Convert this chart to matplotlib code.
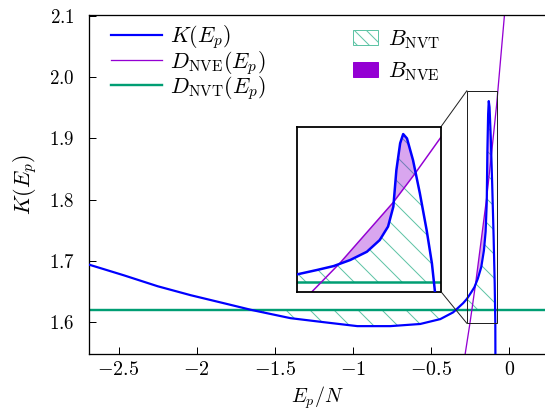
import matplotlib
matplotlib.use("Agg")
import matplotlib.pyplot as plt
from matplotlib.patches import Patch, ConnectionPatch, Rectangle
from matplotlib.lines import Line2D
import numpy as np

plt.rcParams['mathtext.fontset'] = 'cm'
plt.rcParams['font.family'] = ['DejaVu Serif']
plt.rcParams['hatch.linewidth'] = 1.0

# K(E_p)
k_x = np.array([-2.69, -2.60, -2.466, -2.249, -2.038, -1.827, -1.65, -1.399, -1.188,
                -0.971, -0.760, -0.569, -0.44, -0.358, -0.294, -0.270, -0.244, -0.222,
                -0.200, -0.178, -0.161, -0.150, -0.143, -0.139, -0.134, -0.130, -0.125,
                -0.117, -0.108, -0.099, -0.092, -0.088, -0.087])
k_y = np.array([1.694, 1.687, 1.6765, 1.6586, 1.644, 1.631, 1.620, 1.6065, 1.600,
                1.5935, 1.5935, 1.597, 1.605, 1.616, 1.631, 1.638, 1.648, 1.657,
                1.671, 1.690, 1.717, 1.748, 1.794, 1.878, 1.940, 1.961, 1.951,
                1.901, 1.825, 1.740, 1.663, 1.598, 1.50])

# D_NVE(E_p)
nve_x = [-0.30, -0.281, -0.2506, -0.2136, -0.143, -0.114, -0.080, -0.030, -0.015]
nve_y = [1.517, 1.548, 1.598, 1.664, 1.804, 1.871, 1.954, 2.100, 2.15]

# D_NVT(E_p)
nvt_level = 1.62

# B_NVE region (between the crossings of K and D_NVE)
fill_x = [-0.2136, -0.200, -0.178, -0.161, -0.150, -0.143, -0.139, -0.134, -0.130,
          -0.125, -0.117, -0.113]
fill_k = [1.664, 1.671, 1.690, 1.717, 1.748, 1.794, 1.878, 1.940, 1.961,
          1.951, 1.901, 1.873]
fill_d = [1.664, 1.691, 1.734, 1.768, 1.790, 1.804, 1.813, 1.824, 1.834,
          1.845, 1.864, 1.873]

xticks = [-2.5, -2, -1.5, -1, -0.5, 0]
xticklabels = ['$-2.5$', '$-2$', '$-1.5$', '$-1$', '$-0.5$', '$0$']
yticks = [1.6, 1.7, 1.8, 1.9, 2.0, 2.1]
yticklabels = ['$1.6$', '$1.7$', '$1.8$', '$1.9$', '$2.0$', '$2.1$']

BLUE = '#0000ff'
PURPLE = '#9400d3'
GREEN = '#009e73'
HATCH = '#5fc4a6'

fig = plt.figure(figsize=(545 / 72, 415 / 72), dpi=72)
ax = fig.add_axes([0.163, 0.147, 0.837, 0.816])


def draw(a, lw_k, lw_g, lw_p):
    mask = (k_x >= -1.66) & (k_x <= -0.088)
    a.fill_between(k_x, k_y, nvt_level, where=mask, interpolate=True,
                   facecolor='none', edgecolor=HATCH, hatch='\\', linewidth=0, zorder=1)
    a.fill_between(fill_x, fill_k, fill_d, facecolor=PURPLE, alpha=0.35,
                   linewidth=0, zorder=1.5)
    a.axhline(nvt_level, color=GREEN, lw=lw_g, zorder=2)
    a.plot(nve_x, nve_y, color=PURPLE, lw=lw_p, zorder=2.5)
    a.plot(k_x, k_y, color=BLUE, lw=lw_k, zorder=3)


draw(ax, 2.2, 2.4, 1.3)
ax.set_xlim(-2.69, 0.23)
ax.set_ylim(1.548, 2.101)
ax.set_xticks(xticks)
ax.set_xticklabels(xticklabels, fontsize=20)
ax.set_yticks(yticks)
ax.set_yticklabels(yticklabels, fontsize=19)
ax.tick_params(direction='in', length=7, width=1, top=False, right=False)
ax.tick_params(axis='x', pad=6)
ax.tick_params(axis='y', pad=14)
ax.spines['right'].set_visible(False)
for s in ['left', 'bottom', 'top']:
    ax.spines[s].set_linewidth(1.3)
ax.set_xlabel('$E_p/N$', fontsize=20, labelpad=5)
ax.set_ylabel('$K(E_p)$', fontsize=22, labelpad=10)

h1 = [Line2D([], [], color=BLUE, lw=2.2),
      Line2D([], [], color=PURPLE, lw=1.3),
      Line2D([], [], color=GREEN, lw=2.4)]
l1 = ['$K(E_p)$', '$D_{\\mathrm{NVE}}(E_p)$', '$D_{\\mathrm{NVT}}(E_p)$']
leg1 = ax.legend(h1, l1, loc='upper left', bbox_to_anchor=(0.005, 1.035), frameon=False,
                 fontsize=22, handlelength=2.3, labelspacing=-0.12, handletextpad=0.4)
ax.add_artist(leg1)
h2 = [Patch(facecolor='white', edgecolor=HATCH, hatch='\\\\', lw=1),
      Patch(facecolor=PURPLE, edgecolor=PURPLE)]
l2 = ['$B_{\\mathrm{NVT}}$', '$B_{\\mathrm{NVE}}$']
ax.legend(h2, l2, loc='upper left', bbox_to_anchor=(0.535, 1.02), frameon=False,
          fontsize=22, handlelength=1.15, handleheight=0.7, labelspacing=0.4,
          handletextpad=0.45)

# zoomed inset
ix0, ix1, iy0, iy1 = -0.27, -0.08, 1.598, 1.978
axin = fig.add_axes([297.3 / 545, 1 - 291.7 / 415, 143.7 / 545, 165 / 415])
draw(axin, 2.5, 2.5, 1.5)
axin.set_xlim(ix0, ix1)
axin.set_ylim(iy0, iy1)
axin.set_xticks([])
axin.set_yticks([])
for s in axin.spines.values():
    s.set_linewidth(1.8)

ax.add_patch(Rectangle((ix0, iy0), ix1 - ix0, iy1 - iy0, facecolor='none',
                       edgecolor='#222222', lw=1.0, zorder=4))
for ya, yb in [(1, iy1), (0, iy0)]:
    cp = ConnectionPatch(xyA=(1, ya), coordsA=axin.transAxes, xyB=(ix0, yb),
                         coordsB=ax.transData, color='#222222', lw=1.0)
    fig.add_artist(cp)

fig.savefig('out.png', dpi=72)
